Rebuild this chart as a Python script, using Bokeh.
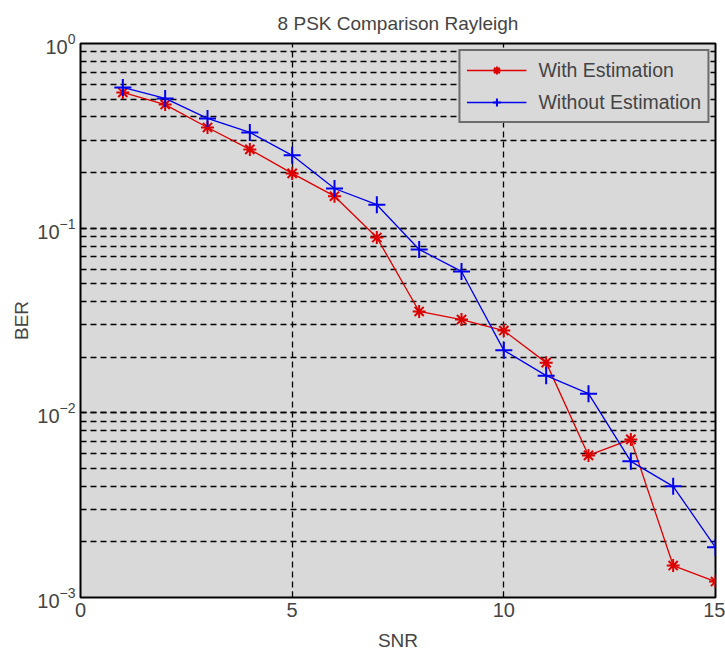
from bokeh.plotting import figure
from bokeh.models import FixedTicker, LogTicker, Legend, LegendItem, Range1d
from bokeh.embed import file_html
from bokeh.resources import INLINE

snr = [1, 2, 3, 4, 5, 6, 7, 8, 9, 10, 11, 12, 13, 14, 15]
ber_with_est = [0.543, 0.467, 0.351, 0.267, 0.198, 0.149, 0.089, 0.0354, 0.032,
                0.0279, 0.0187, 0.00588, 0.00718, 0.00149, 0.00122]
ber_without_est = [0.578, 0.504, 0.393, 0.330, 0.248, 0.164, 0.134, 0.0767, 0.0583,
                   0.0218, 0.0159, 0.0127, 0.00546, 0.0040, 0.00187]
x_ticks = [0, 5, 10, 15]

FONT = "Liberation Sans"

p = figure(width=725, height=654, output_backend="svg", toolbar_location=None,
           y_axis_type="log", x_range=Range1d(0, 15), y_range=Range1d(1e-3, 1),
           title="8 PSK Comparison Rayleigh",
           min_border_left=80, min_border_right=10, min_border_top=43, min_border_bottom=57)
p.background_fill_color = "#d9d9d9"
p.border_fill_color = "white"
p.outline_line_color = "black"
p.outline_line_width = 2

p.title.align = "center"
p.title.text_font = FONT
p.title.text_font_size = "19px"
p.title.text_font_style = "normal"
p.title.standoff = 20

p.xaxis.ticker = FixedTicker(ticks=x_ticks)
p.yaxis.ticker = LogTicker(num_minor_ticks=10)
for ax in (p.xaxis[0], p.yaxis[0]):
    ax.axis_line_color = None
    ax.major_tick_out = 0
    ax.major_tick_in = 6
    ax.minor_tick_out = 0
    ax.minor_tick_in = 3
    ax.major_label_text_font = FONT
    ax.major_label_text_font_size = "20px"
    ax.axis_label_text_font = FONT
    ax.axis_label_text_font_size = "19px"
    ax.axis_label_text_font_style = "normal"
p.xaxis.axis_label = "SNR"
p.yaxis.axis_label = "BER"
p.xaxis.axis_label_standoff = 10
p.yaxis.axis_label_standoff = 2

p.xgrid.ticker = FixedTicker(ticks=[5, 10])
p.xgrid.grid_line_color = "black"
p.xgrid.grid_line_dash = "6 4"
p.xgrid.grid_line_width = 1.3
p.ygrid.grid_line_color = "black"
p.ygrid.grid_line_dash = "6 4"
p.ygrid.grid_line_width = 1.5
p.ygrid.minor_grid_line_color = "black"
p.ygrid.minor_grid_line_dash = "6 4"
p.ygrid.minor_grid_line_width = 1.5

r1 = p.line(snr, ber_with_est, line_color="#dd0000", line_width=1.3)
m1 = p.scatter(snr, ber_with_est, marker="asterisk", size=13, line_color="#dd0000", line_width=2)
r2 = p.line(snr, ber_without_est, line_color="#0000ee", line_width=1.3)
m2 = p.scatter(snr, ber_without_est, marker="cross", size=17, line_color="#0000ee", line_width=2)

legend = Legend(items=[LegendItem(label="With Estimation", renderers=[r1, m1]),
                       LegendItem(label="Without Estimation", renderers=[r2, m2])],
                location="top_right")
legend.border_line_color = "black"
legend.border_line_width = 2
legend.background_fill_color = "#d9d9d9"
legend.background_fill_alpha = 1.0
legend.label_text_font = FONT
legend.label_text_font_size = "19.5px"
legend.glyph_width = 60
legend.label_standoff = 12
legend.label_height = 26
legend.margin = 6
legend.padding = 6
legend.spacing = 6
p.add_layout(legend)

open("out.html", "w").write(file_html(p, INLINE))
